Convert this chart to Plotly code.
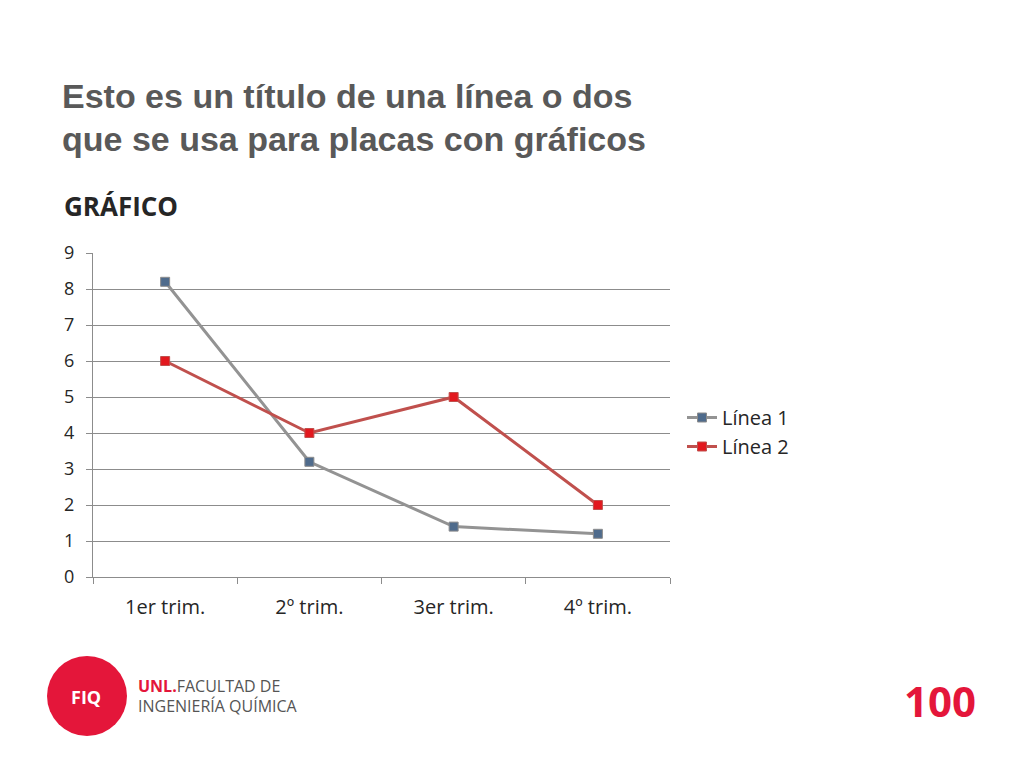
import plotly.graph_objects as go

categories = ["1er trim.", "2º trim.", "3er trim.", "4º trim."]
linea1 = [8.2, 3.2, 1.4, 1.2]
linea2 = [6, 4, 5, 2]

# plot area in reference pixels: x 93..670, y 253..577
L, R, T, B = 93, 670, 253, 577
OFF = 8  # page body margin shifts everything


def px(x):
    return (x - L) / (R - L)


def py(y):
    return (B - y) / (B - T)


fig = go.Figure()
fig.add_trace(go.Scatter(
    x=categories, y=linea1, name="Línea 1", mode="lines+markers",
    line=dict(color="#939393", width=3),
    marker=dict(symbol="square", size=9, color="#4F6B8C", line=dict(color="#8C8C8C", width=1))
))
fig.add_trace(go.Scatter(
    x=categories, y=linea2, name="Línea 2", mode="lines+markers",
    line=dict(color="#C0504D", width=3),
    marker=dict(symbol="square", size=9, color="#E2181E", line=dict(color="#C0504D", width=1))
))

font = "Open Sans, Calibri, sans-serif"
fig.update_layout(
    width=1024, height=768,
    margin=dict(l=L - OFF, r=1024 - R + OFF, t=T - OFF, b=768 - B + OFF),
    plot_bgcolor="white", paper_bgcolor="white",
    font=dict(family=font, size=19, color="#262626"),
    showlegend=True,
    legend=dict(x=px(682), y=py(398), xanchor="left", yanchor="top",
                font=dict(size=20, color="#262626"), tracegroupgap=16),
    xaxis=dict(type="category", range=[-0.5, 3.5], tickson="boundaries",
               ticks="outside", ticklen=6, tickcolor="#8C8C8C", ticklabelstandoff=12,
               showline=True, linecolor="#8C8C8C", showgrid=False,
               tickfont=dict(size=20)),
    yaxis=dict(range=[0, 9], dtick=1, ticks="outside", ticklen=6, tickcolor="#8C8C8C",
               ticklabelstandoff=8,
               showline=True, linecolor="#8C8C8C", gridcolor="#8C8C8C", gridwidth=1,
               zeroline=False, tickfont=dict(size=18)),
)

fig.add_annotation(xref="paper", yref="paper", x=px(60), y=py(96), xanchor="left", yanchor="middle",
                   text="<b>Esto es un título de una línea o dos</b>", showarrow=False,
                   font=dict(family="Liberation Sans, Arial", size=34, color="#595959"))
fig.add_annotation(xref="paper", yref="paper", x=px(60), y=py(139), xanchor="left", yanchor="middle",
                   text="<b>que se usa para placas con gráficos</b>", showarrow=False,
                   font=dict(family="Liberation Sans, Arial", size=34, color="#595959"))
fig.add_annotation(xref="paper", yref="paper", x=px(62), y=py(206), xanchor="left", yanchor="middle",
                   text="<b>GRÁFICO</b>", showarrow=False,
                   font=dict(family=font, size=26, color="#262626"))

# footer logo
fig.add_shape(type="circle", xref="paper", yref="paper",
              x0=px(47), x1=px(127), y0=py(656), y1=py(736),
              fillcolor="#E4163A", line=dict(width=0))
fig.add_annotation(xref="paper", yref="paper", x=px(86), y=py(697), xanchor="center", yanchor="middle",
                   text="<b>FIQ</b>", showarrow=False,
                   font=dict(family=font, size=18, color="white"))
fig.add_annotation(xref="paper", yref="paper", x=px(136), y=py(686), xanchor="left", yanchor="middle",
                   text="<b><span style='color:#E4163A'>UNL.</span></b>FACULTAD DE", showarrow=False,
                   font=dict(family=font, size=16, color="#555555"))
fig.add_annotation(xref="paper", yref="paper", x=px(136), y=py(706), xanchor="left", yanchor="middle",
                   text="INGENIERÍA QUÍMICA", showarrow=False,
                   font=dict(family=font, size=16, color="#555555"))
fig.add_annotation(xref="paper", yref="paper", x=px(940), y=py(700), xanchor="center", yanchor="middle",
                   text="<b>100</b>", showarrow=False,
                   font=dict(family=font, size=42, color="#E4163A"))

fig.write_html("out.html")
